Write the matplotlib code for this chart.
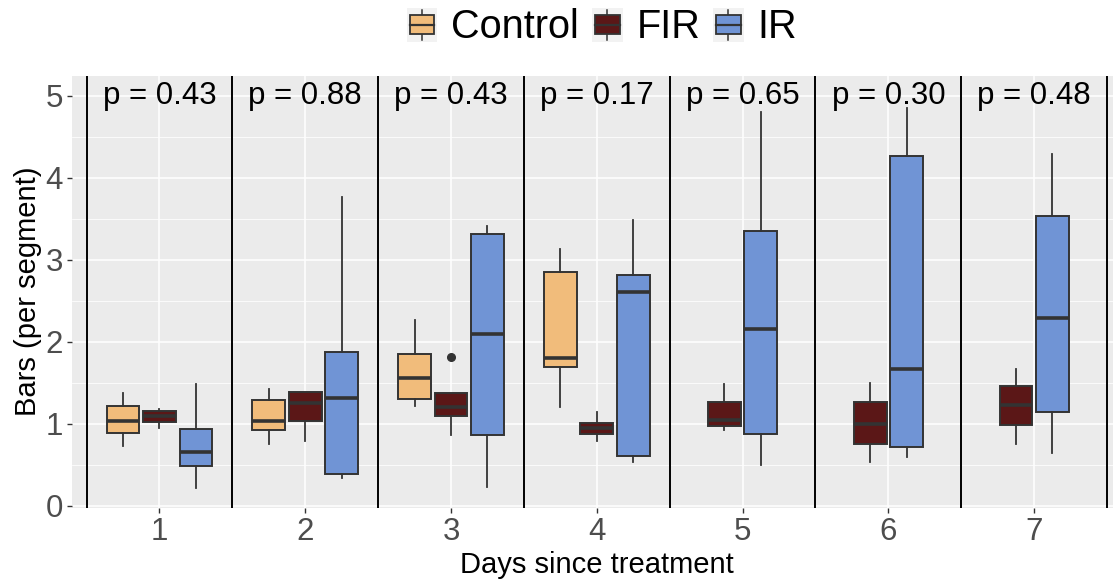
import matplotlib
matplotlib.use("Agg")
import matplotlib.pyplot as plt
from matplotlib.legend_handler import HandlerBase
from matplotlib.lines import Line2D
from matplotlib.patches import Patch, Rectangle

plt.rcParams["font.family"] = ["Liberation Sans", "DejaVu Sans"]

EDGE = "#333333"
COLORS = {"Control": "#F1BC7B", "FIR": "#5B1717", "IR": "#7094D5"}

days = [1, 2, 3, 4, 5, 6, 7]
p_values = [0.43, 0.88, 0.43, 0.17, 0.65, 0.30, 0.48]

# five-number summaries per treatment (whisker low, q1, median, q3, whisker high)
control_days = [1, 2, 3, 4]
control_low = [0.73, 0.76, 1.22, 1.20]
control_q1 = [0.89, 0.93, 1.30, 1.69]
control_med = [1.03, 1.03, 1.56, 1.80]
control_q3 = [1.22, 1.29, 1.85, 2.85]
control_high = [1.38, 1.43, 2.26, 3.13]

fir_days = [1, 2, 3, 4, 5, 6, 7]
fir_low = [0.95, 0.79, 0.86, 0.79, 0.92, 0.54, 0.76]
fir_q1 = [1.02, 1.04, 1.10, 0.88, 0.97, 0.76, 0.99]
fir_med = [1.10, 1.25, 1.20, 0.95, 1.05, 1.00, 1.23]
fir_q3 = [1.16, 1.39, 1.37, 1.01, 1.27, 1.26, 1.46]
fir_high = [1.18, 1.39, 1.37, 1.14, 1.49, 1.50, 1.67]
fir_outliers = {3: [1.82]}

ir_days = [1, 2, 3, 4, 5, 6, 7]
ir_low = [0.22, 0.34, 0.23, 0.54, 0.50, 0.60, 0.64]
ir_q1 = [0.49, 0.39, 0.86, 0.61, 0.88, 0.72, 1.14]
ir_med = [0.66, 1.31, 2.09, 2.61, 2.16, 1.67, 2.29]
ir_q3 = [0.94, 1.87, 3.31, 2.81, 3.35, 4.27, 3.53]
ir_high = [1.48, 3.76, 3.41, 3.48, 4.80, 4.85, 4.29]

groups = {
    "Control": (control_days, control_low, control_q1, control_med, control_q3, control_high, {}),
    "FIR": (fir_days, fir_low, fir_q1, fir_med, fir_q3, fir_high, fir_outliers),
    "IR": (ir_days, ir_low, ir_q1, ir_med, ir_q3, ir_high, {}),
}


class BoxKey(HandlerBase):
    """Legend key drawn as a tiny boxplot on a grey square."""

    def create_artists(self, legend, orig_handle, xdescent, ydescent,
                       width, height, fontsize, trans):
        x0, y0 = -xdescent, -ydescent
        cx = x0 + width / 2
        bg = Rectangle((x0, y0), width, height, facecolor="#F2F2F2",
                       edgecolor="none", transform=trans)
        whisk = Line2D([cx, cx], [y0 + 0.06 * height, y0 + 0.94 * height],
                       color=EDGE, lw=1.1, transform=trans)
        box = Rectangle((x0 + 0.1 * width, y0 + 0.22 * height), 0.8 * width,
                        0.56 * height, facecolor=orig_handle.get_facecolor(),
                        edgecolor=EDGE, lw=1.3, transform=trans)
        med = Line2D([x0 + 0.1 * width, x0 + 0.9 * width], [y0 + height / 2] * 2,
                     color=EDGE, lw=1.6, transform=trans)
        return [bg, whisk, box, med]


fig = plt.figure(figsize=(11.13, 5.84), dpi=100)
W, H = 1113, 584
ax = fig.add_axes([72 / W, 1 - 507.5 / H, (1121.6 - 72) / W, (507.5 - 76) / H])
ax.set_facecolor("#EBEBEB")
for s in ax.spines.values():
    s.set_visible(False)

ax.set_xlim(0.4, 7.6)
ax.set_ylim(-0.02, 5.24)
ax.set_xticks(days)
ax.set_yticks([0, 1, 2, 3, 4, 5])
ax.set_yticks([0.5, 1.5, 2.5, 3.5, 4.5], minor=True)
ax.grid(which="major", color="white", lw=1.1)
ax.grid(which="minor", axis="y", color="white", lw=0.55)
ax.tick_params(which="major", length=3.5, width=1, color=EDGE,
               labelsize=22.5, labelcolor="#4D4D4D", pad=3)
ax.tick_params(which="minor", length=0)
ax.set_axisbelow(True)

# how many treatments are present on each day, for dodging
present = {d: [g for g, v in groups.items() if d in v[0]] for d in days}
slot = 0.25
box_w = 0.225

for name, (gdays, lo, q1, med, q3, hi, outl) in groups.items():
    stats, pos = [], []
    for i, d in enumerate(gdays):
        here = present[d]
        k = here.index(name)
        offset = (k - (len(here) - 1) / 2) * slot
        pos.append(d + offset)
        stats.append({"whislo": lo[i], "q1": q1[i], "med": med[i], "q3": q3[i],
                      "whishi": hi[i], "fliers": outl.get(d, [])})
    ax.bxp(stats, positions=pos, widths=box_w, showcaps=False, patch_artist=True,
           manage_ticks=False,
           boxprops=dict(facecolor=COLORS[name], edgecolor=EDGE, lw=1.4),
           whiskerprops=dict(color=EDGE, lw=1.3),
           medianprops=dict(color=EDGE, lw=2.6, solid_capstyle="butt"),
           flierprops=dict(marker="o", markerfacecolor=EDGE, markeredgecolor=EDGE,
                           markersize=5.5))

# day separators
for b in [d - 0.5 for d in days] + [days[-1] + 0.5]:
    ax.axvline(b, color="black", lw=1.4, zorder=3)

for d, p in zip(days, p_values):
    ax.text(d, 5.0, f"p = {p:.2f}", ha="center", va="center", fontsize=22.5,
            color="black", zorder=4)

ax.set_xlabel("Days since treatment", fontsize=21)
ax.set_ylabel("Bars (per segment)", fontsize=21)
ax.xaxis.set_label_coords((597 - 72) / (1121.6 - 72), (507.5 - 565) / (507.5 - 76))
ax.xaxis.label.set_va("center")
ax.yaxis.set_label_coords((28 - 72) / (1121.6 - 72), 0.5)
ax.yaxis.label.set_va("center")

handles = [Patch(facecolor=COLORS[g]) for g in groups]
fig.legend(handles, list(groups), loc="center", bbox_to_anchor=(602 / W, 1 - 27 / H),
           ncol=3, frameon=False, fontsize=28.5, handlelength=0.78, handleheight=0.94,
           handletextpad=0.35, columnspacing=0.32, borderpad=0,
           handler_map={Patch: BoxKey()})

fig.savefig("out.png", dpi=100)
